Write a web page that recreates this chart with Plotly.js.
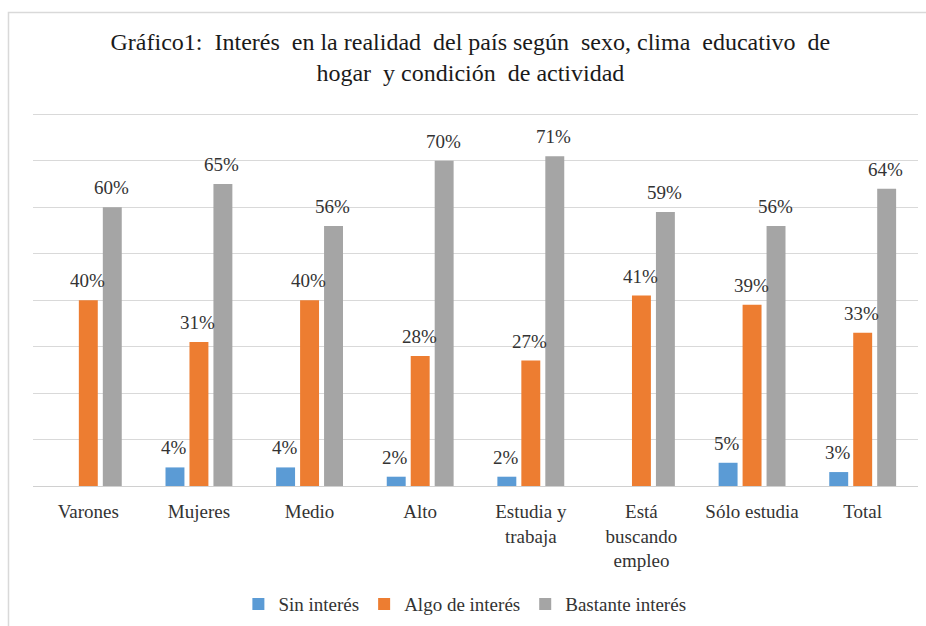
<!DOCTYPE html>
<html>
<head>
<meta charset="utf-8">
<script src="https://cdn.plot.ly/plotly-3.0.1.min.js"></script>
<style>html,body{margin:0;padding:0;background:#fff;}#chart{width:926px;height:626px;}</style>
</head>
<body>
<div id="chart"></div>
<script>
const categories = ["Varones", "Mujeres", "Medio", "Alto", "Estudia y<br>trabaja", "Está<br>buscando<br>empleo", "Sólo estudia", "Total"];
const sinInteres = [0, 4, 4, 2, 2, 0, 5, 3];
const algoInteres = [40, 31, 40, 28, 27, 41, 39, 33];
const bastanteInteres = [60, 65, 56, 70, 71, 59, 56, 64];
const seriesNames = ["Sin interés", "Algo de interés", "Bastante interés"];
const seriesColors = ["#5B9BD5", "#ED7D31", "#A5A5A5"];
const yTicks = [0, 10, 20, 30, 40, 50, 60, 70, 80];

const allSeries = [sinInteres, algoInteres, bastanteInteres];
const serif = "Liberation Serif";
const txtColor = "#333333";

const traces = allSeries.map((vals, s) => ({
  type: "bar",
  name: seriesNames[s],
  x: categories,
  y: vals,
  marker: {color: seriesColors[s]},
  hoverinfo: "none"
}));

const annotations = [];
allSeries.forEach((vals, s) => {
  vals.forEach((v, i) => {
    if (v > 0) {
      annotations.push({
        x: categories[i], y: v, xref: "x", yref: "y",
        text: v + "%", showarrow: false,
        xanchor: "center", yanchor: "bottom",
        xshift: (s - 1) * 24 - 1, yshift: 7,
        font: {family: serif, size: 19, color: txtColor}
      });
    }
  });
});

const frameColor = "#D9D9D9";
const shapes = [
  {type: "rect", xref: "paper", yref: "paper", x0: -0.0277, x1: 1.05, y0: -0.45, y1: 1.2694, line: {color: frameColor, width: 1.5}, fillcolor: "rgba(0,0,0,0)"}
];

const layout = {
  width: 926, height: 626,
  margin: {l: 33, r: 8, t: 113, b: 140, autoexpand: false},
  paper_bgcolor: "#fff", plot_bgcolor: "#fff",
  title: {
    text: "Gráfico1:&nbsp; Interés&nbsp; en la realidad&nbsp; del país según&nbsp; sexo, clima&nbsp; educativo&nbsp; de<br>hogar&nbsp; y condición&nbsp; de actividad",
    font: {family: serif, size: 24, color: "#1a1a1a"},
    x: 0.508, xanchor: "center", y: 0.92, yanchor: "top"
  },
  barmode: "group",
  bargap: 0.35,
  bargroupgap: 0.21,
  showlegend: true,
  legend: {
    orientation: "h", x: 0.488, xanchor: "center",
    yref: "container", y: 0.035, yanchor: "middle",
    font: {family: serif, size: 19, color: txtColor},
    itemwidth: 30, traceorder: "normal"
  },
  xaxis: {
    type: "category", automargin: false,
    showline: true, linecolor: "#D0D0D0", linewidth: 1,
    ticks: "", showgrid: false,
    tickfont: {family: serif, size: 19, color: txtColor},
    ticklabelstandoff: 8,
    fixedrange: true
  },
  yaxis: {
    range: [0, 80.3], automargin: false,
    tickvals: yTicks,
    showticklabels: false,
    showgrid: true, gridcolor: "#D9D9D9", gridwidth: 1,
    zeroline: false, showline: false, ticks: "",
    fixedrange: true
  },
  annotations: annotations,
  shapes: shapes
};

Plotly.newPlot("chart", traces, layout, {displayModeBar: false, staticPlot: true});
</script>
</body>
</html>
